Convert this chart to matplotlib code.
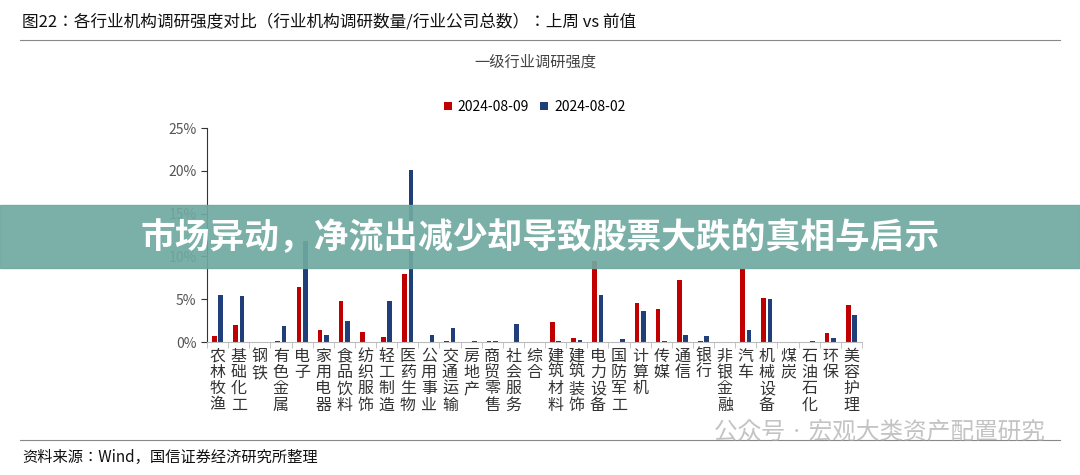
import matplotlib
matplotlib.use("Agg")
import matplotlib.pyplot as plt
from matplotlib import font_manager
import numpy as np

names = {f.name for f in font_manager.fontManager.ttflist}
cjk = [n for n in ["Noto Sans CJK SC","Noto Sans CJK JP","Noto Sans CJK TC","Noto Sans CJK KR"] if n in names]
plt.rcParams["font.family"] = "sans-serif"
plt.rcParams["font.sans-serif"] = cjk + ["DejaVu Sans"]

categories = ["农林牧渔","基础化工","钢铁","有色金属","电子","家用电器","食品饮料","纺织服饰","轻工制造","医药生物",
              "公用事业","交通运输","房地产","商贸零售","社会服务","综合","建筑材料","建筑装饰","电力设备","国防军工",
              "计算机","传媒","通信","银行","非银金融","汽车","机械设备","煤炭","石油石化","环保","美容护理"]
s_0809 = [0.7,2.0,0,0.1,6.4,1.4,4.8,1.2,0.6,7.9,0,0.1,0,0.1,0,0,2.3,0.5,9.5,0,4.5,3.8,7.3,0.1,0,8.5,5.1,0,0,1.0,4.3]
s_0802 = [5.5,5.4,0,1.9,11.8,0.8,2.4,0,4.8,20.1,0.8,1.6,0.1,0.1,2.1,0,0.1,0.2,5.5,0.3,3.6,0.1,0.8,0.7,0,1.4,5.0,0,0.1,0.5,3.1]
legend_labels = ["2024-08-09","2024-08-02"]
yticks = [0,5,10,15,20,25]

W,H = 1080,475
fig = plt.figure(figsize=(W/100,H/100), dpi=100)
ax = fig.add_axes([207/W, 1-342/H, (862-207)/W, (342-128)/H])
x = np.arange(len(categories))
bw = 0.22
ax.bar(x-0.15, s_0809, bw, color="#C00000", label=legend_labels[0])
ax.bar(x+0.15, s_0802, bw, color="#1F3E7A", label=legend_labels[1])
ax.set_xlim(-0.5, len(categories)-0.5)
ax.set_ylim(0,25)
ax.set_yticks(yticks)
ax.set_yticklabels([f"{v}%" for v in yticks], color="#555555", fontsize=10)
ax.set_xticks(x)
ax.set_xticklabels(["\n".join(c) for c in categories], fontsize=11.5, color="#333333", linespacing=0.95, va="top")
ax.set_xticks(np.arange(-0.5,len(categories),1), minor=True)
ax.tick_params(axis="x", which="major", length=0, pad=4)
ax.tick_params(axis="x", which="minor", length=4, color="#bbbbbb")
ax.tick_params(axis="y", length=4, color="#333333")
for s in ["top","right"]:
    ax.spines[s].set_visible(False)
ax.spines["bottom"].set_color("#bbbbbb")
ax.spines["left"].set_color("#333333")
ax.legend(loc="upper center", bbox_to_anchor=(0.5,1.19), ncol=2, frameon=False, fontsize=10,
          handlelength=0.6, handleheight=0.6, columnspacing=0.8, handletextpad=0.4)

fig.text(22/W, 1-22/H, "图22：各行业机构调研强度对比（行业机构调研数量/行业公司总数）：上周 vs 前值",
         fontsize=12, va="center", color="#111111")
fig.add_artist(plt.Line2D([20/W,1060/W],[1-40/H,1-40/H], color="#888888", lw=0.8))
fig.text(535/W, 1-62/H, "一级行业调研强度", fontsize=11, ha="center", va="center", color="#444444")
fig.add_artist(plt.Line2D([20/W,1060/W],[1-440/H,1-440/H], color="#888888", lw=0.8))
fig.text(22/W, 1-457/H, "资料来源：Wind，国信证券经济研究所整理", fontsize=11, va="center", color="#111111")
fig.text(1045/W, 1-432/H, "公众号 · 宏观大类资产配置研究", fontsize=17, ha="right", va="center", color="#aaaaaa", alpha=0.7)

fig.patches.append(matplotlib.patches.Rectangle((0,1-268/H),1,(268-205)/H, transform=fig.transFigure,
                                               color="#6FA9A1", alpha=0.92, zorder=10))
fig.text(540/W, 1-238/H, "市场异动，净流出减少却导致股票大跌的真相与启示", fontsize=25, fontweight="bold",
         ha="center", va="center", color="white", zorder=11)
fig.savefig("out.png", dpi=100)
